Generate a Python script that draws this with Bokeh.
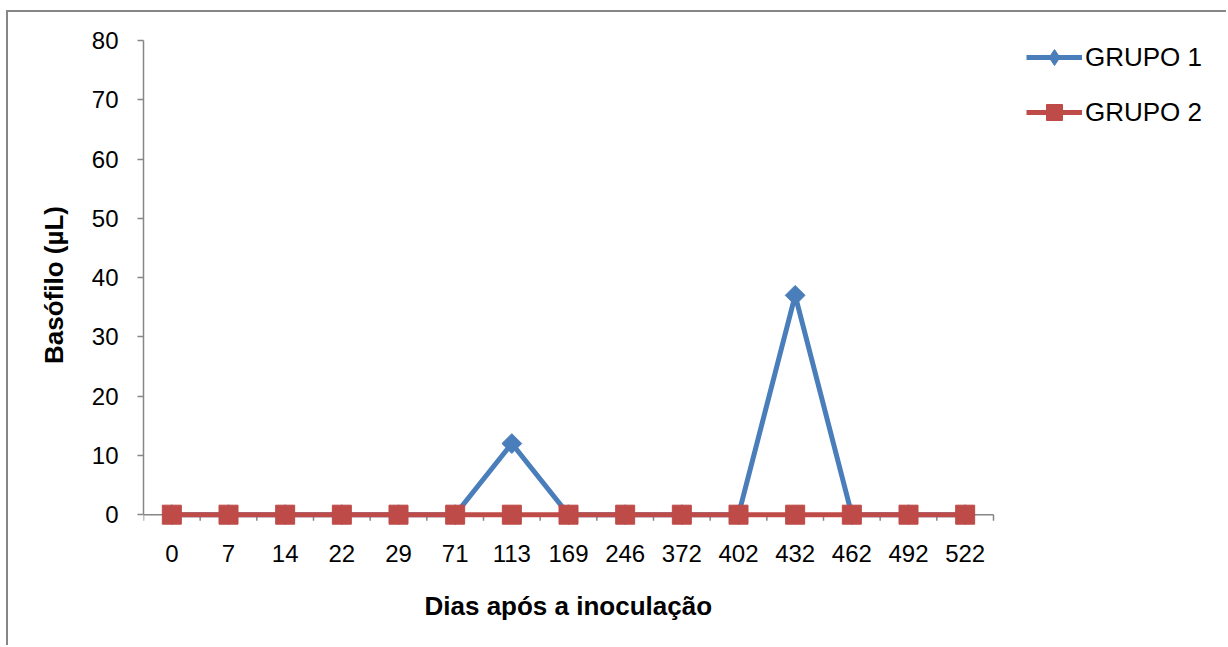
from bokeh.plotting import figure
from bokeh.models import FixedTicker, Legend, LegendItem, Title
from bokeh.embed import file_html
from bokeh.resources import INLINE

# Days after inoculation (categories) and basophil counts per group
dias = ["0", "7", "14", "22", "29", "71", "113", "169", "246", "372", "402", "432", "462", "492", "522"]
grupo1 = [0, 0, 0, 0, 0, 0, 12, 0, 0, 0, 0, 37, 0, 0, 0]
grupo2 = [0, 0, 0, 0, 0, 0, 0, 0, 0, 0, 0, 0, 0, 0, 0]
y_ticks = [0, 10, 20, 30, 40, 50, 60, 70, 80]

FONT = "Liberation Sans"
GRAY = "#868686"
BLUE = "#4A7EBB"
RED = "#BE4B48"

xs = list(range(len(dias)))
n = len(dias)

# canvas geometry (pixels)
W, H = 1220, 635
LEFT, TOP, BOTTOM = 135, 28, 118
AXIS_W = 850                      # width of the category axis
Y_MIN, Y_MAX = -2.5, 80           # a little room below zero for the markers
frame_w = W - LEFT
frame_h = H - TOP - BOTTOM
x_end = -0.5 + n * frame_w / AXIS_W
px_per_unit = frame_h / (Y_MAX - Y_MIN)
tick_len = 6 / px_per_unit

p = figure(
    width=W, height=H,
    x_range=(-0.5, x_end), y_range=(Y_MIN, Y_MAX),
    output_backend="svg", toolbar_location=None,
    min_border_left=LEFT, min_border_right=0,
    min_border_top=TOP, min_border_bottom=BOTTOM,
)
p.margin = (10, 0, 0, 6)
p.styles = {"border-top": f"2px solid {GRAY}", "border-left": f"2px solid {GRAY}"}

p.grid.visible = False
p.outline_line_color = None
p.background_fill_color = "white"
p.border_fill_color = "white"

# x axis: category labels only; its line and ticks are drawn at y = 0 below
xa = p.xaxis[0]
xa.ticker = FixedTicker(ticks=xs)
xa.major_label_overrides = {i: d for i, d in enumerate(dias)}
xa.axis_line_color = None
xa.major_tick_line_color = None
xa.minor_tick_line_color = None
xa.major_tick_out = 0
xa.major_tick_in = 0
xa.major_label_text_font = FONT
xa.major_label_text_font_size = "24px"
xa.major_label_text_color = "black"
xa.major_label_standoff = 15

# x axis title, centred under the category axis
x_title = "Dias após a inoculação"
p.add_layout(Title(text=x_title, align="left", offset=281, standoff=48,
                   text_font=FONT, text_font_size="26px", text_font_style="bold",
                   text_color="black"), "below")

# horizontal axis line at zero with ticks between categories
p.segment(x0=[-0.5], x1=[n - 0.5], y0=[0], y1=[0], line_color=GRAY, line_width=1.5)
bounds = [i - 0.5 for i in range(n + 1)]
p.segment(x0=bounds, x1=bounds, y0=[0] * len(bounds), y1=[-tick_len] * len(bounds),
          line_color=GRAY, line_width=1.5)

ya = p.yaxis[0]
ya.bounds = (0, 80)
ya.ticker = FixedTicker(ticks=y_ticks)
ya.minor_tick_line_color = None
ya.major_tick_out = 6
ya.major_tick_in = 0
ya.major_tick_line_color = GRAY
ya.major_tick_line_width = 1.5
ya.axis_line_color = GRAY
ya.axis_line_width = 1.5
ya.major_label_text_font = FONT
ya.major_label_text_font_size = "24px"
ya.major_label_text_color = "black"
ya.major_label_standoff = 19
ya.axis_label = "Basófilo (µL)"
ya.axis_label_text_font = FONT
ya.axis_label_text_font_size = "26px"
ya.axis_label_text_font_style = "bold"
ya.axis_label_text_color = "black"
ya.axis_label_standoff = 20

l1 = p.line(xs, grupo1, line_color=BLUE, line_width=5)
# diamond key used by the legend; fully covered by the rotated squares below
key1 = p.scatter(xs, grupo1, marker="diamond", size=14, fill_color=BLUE, line_color=BLUE)
m1 = p.scatter(xs, grupo1, marker="square", size=14, angle=0.785398,
               fill_color=BLUE, line_color=BLUE)
l2 = p.line(xs, grupo2, line_color=RED, line_width=5)
m2 = p.scatter(xs, grupo2, marker="square", size=19,
               fill_color=RED, line_color=RED)

legend = Legend(
    items=[LegendItem(label="GRUPO 1", renderers=[l1, key1]),
           LegendItem(label="GRUPO 2", renderers=[l2, m2])],
    location=(883, 397),
    glyph_width=56, glyph_height=40, label_height=40, label_standoff=3,
    spacing=15, padding=0, margin=0,
    label_text_font=FONT, label_text_font_size="26px", label_text_color="black",
    border_line_color=None, background_fill_alpha=0,
)
p.add_layout(legend)

open("out.html", "w").write(file_html(p, INLINE))
